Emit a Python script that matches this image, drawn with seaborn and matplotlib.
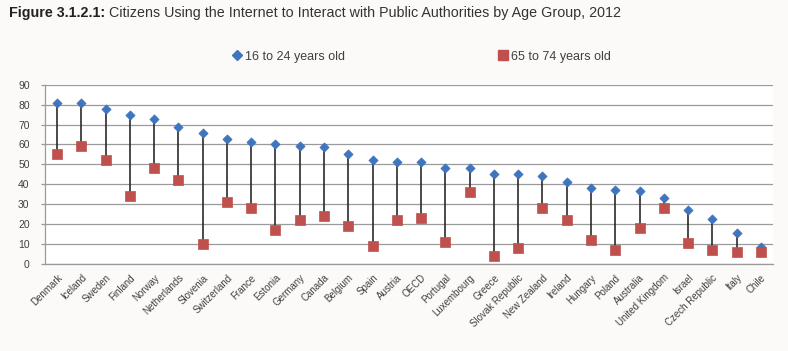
import numpy as np
import pandas as pd
import matplotlib
matplotlib.use("Agg")
import matplotlib.pyplot as plt
from matplotlib.lines import Line2D
from matplotlib.transforms import offset_copy
import seaborn as sns

# data
countries = [
    "Denmark", "Iceland", "Sweden", "Finland", "Norway", "Netherlands",
    "Slovenia", "Switzerland", "France", "Estonia", "Germany", "Canada",
    "Belgium", "Spain", "Austria", "OECD", "Portugal", "Luxembourg",
    "Greece", "Slovak Republic", "New Zealand", "Ireland", "Hungary",
    "Poland", "Australia", "United Kingdom", "Israel", "Czech Republic",
    "Italy", "Chile",
]
young = [81, 81, 78, 75, 73, 69, 66, 63, 61, 60, 59, 58.5, 55, 52, 51, 51,
         48, 48, 45, 45, 44, 41, 38, 37, 36.5, 33, 27, 22.5, 15.5, 8.5]
old = [55, 59, 52, 34, 48, 42, 10, 31, 28, 17, 22, 24, 19, 9, 22, 23,
       11, 36, 4, 8, 28, 22, 12, 7, 18, 28, 10.5, 7, 6, 6]
yticks = list(range(0, 91, 10))

df = pd.DataFrame({"Country": countries, "16 to 24 years old": young,
                   "65 to 74 years old": old})

sns.set_style("white")
plt.rcParams["font.family"] = ["Liberation Sans", "DejaVu Sans"]

blue = "#3f74bf"
red = "#c0504d"
txt = "#404040"

fig = plt.figure(figsize=(7.88, 3.51), dpi=100, facecolor="#fbfaf8")
ax = fig.add_axes([0.057, 0.247, 0.924, 0.512])
ax.set_facecolor("white")

pos = np.arange(len(countries))
ax.vlines(pos, df["65 to 74 years old"], df["16 to 24 years old"],
          color="#2b2b2b", lw=1.2, zorder=2)
sns.scatterplot(x=pos, y=df["16 to 24 years old"], marker="D", s=22,
                color=blue, edgecolor=blue, linewidth=0.5, ax=ax, zorder=3)
sns.scatterplot(x=pos, y=df["65 to 74 years old"], marker="s", s=45,
                color=red, edgecolor=red, linewidth=0.5, ax=ax, zorder=3)

ax.set_xlim(-0.5, len(countries) - 0.5)
ax.set_ylim(0, 90)
ax.set_yticks(yticks)
ax.set_yticklabels([str(t) for t in yticks], fontsize=7.5, color=txt)
ax.yaxis.grid(True, color="#9a9a9a", lw=0.9)
ax.set_axisbelow(True)

ax.set_xticks(pos)
ax.set_xticklabels(countries, rotation=45, ha="right", rotation_mode="anchor",
                   fontsize=7, color=txt)
ax.tick_params(axis="x", length=0, pad=6)
ax.set_xticks(np.arange(-0.5, len(countries), 1), minor=True)
ax.tick_params(axis="x", which="minor", length=4, color="#9a9a9a", width=0.9,
               direction="out")
ax.tick_params(axis="y", length=3, color="#9a9a9a", width=0.9, pad=8,
               direction="out", left=True)
ax.set_xlabel("")
ax.set_ylabel("")

for side in ["top", "right"]:
    ax.spines[side].set_visible(False)
for side in ["left", "bottom"]:
    ax.spines[side].set_color("#9a9a9a")
    ax.spines[side].set_linewidth(0.9)

handles = [
    Line2D([], [], marker="D", color=blue, ls="", ms=5.5),
    Line2D([], [], marker="s", color=red, ls="", ms=7),
]
fig.legend(handles, ["16 to 24 years old", "65 to 74 years old"], ncol=2,
           loc="center", bbox_to_anchor=(0.535, 0.838), frameon=False,
           fontsize=9, labelcolor=txt, handlelength=0.8, handletextpad=0.25,
           columnspacing=12.2)

# title: bold label followed by regular text
t1 = fig.text(0.012, 0.962, "Figure 3.1.2.1:", fontsize=10.3,
              fontweight="bold", color="#222222", va="center", ha="left")
fig.canvas.draw()
bb = t1.get_window_extent()
x_next = (bb.x1 + 3) / fig.bbox.width
fig.text(x_next, 0.962,
         "Citizens Using the Internet to Interact with Public Authorities by Age Group, 2012",
         fontsize=10.3, color="#333333", va="center", ha="left")

fig.savefig("out.png", dpi=100, facecolor=fig.get_facecolor())
